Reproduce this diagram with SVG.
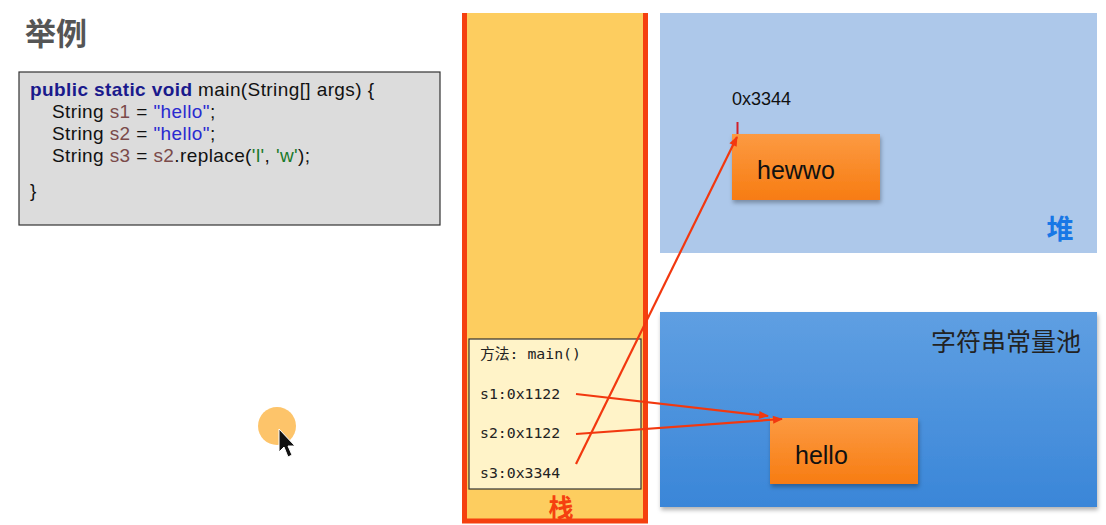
<svg xmlns="http://www.w3.org/2000/svg" width="1106" height="525" viewBox="0 0 1106 525">
<defs>
<marker id="ah2" viewBox="0 0 10 10" refX="9" refY="5" markerWidth="12" markerHeight="10" orient="auto" markerUnits="userSpaceOnUse">
<path d="M0,1 L10,5 L0,9 Z" fill="#f2380f"/>
</marker>
<linearGradient id="og" x1="0" y1="0" x2="0" y2="1">
<stop offset="0" stop-color="#fc9a42"/>
<stop offset="1" stop-color="#f77c12"/>
</linearGradient>
<linearGradient id="bg" x1="0" y1="0" x2="0" y2="1">
<stop offset="0" stop-color="#5f9fe2"/>
<stop offset="1" stop-color="#3a86d8"/>
</linearGradient>
<filter id="sh" x="-10%" y="-10%" width="130%" height="140%">
<feDropShadow dx="1" dy="3" stdDeviation="2" flood-color="#000" flood-opacity="0.3"/>
</filter>
</defs>
<style>
.code{font-family:"Liberation Sans",Arial,sans-serif;font-size:19px;letter-spacing:0.4px;fill:#111}
.kw{fill:#1a1a8c;font-weight:bold}
.var{fill:#7a4a4a}
.str{fill:#2a2ad0}
.chr{fill:#1a7a2a}
.mono{font-family:"DejaVu Sans Mono","Noto Sans CJK SC",monospace;font-size:14.8px;fill:#222}
.box{font-family:"Liberation Sans",Arial,sans-serif;font-size:25px;fill:#111}
.conn{stroke:#f2380f;stroke-width:2.2;fill:none}
</style>
<rect width="1106" height="525" fill="#ffffff"/>
<g id="title">
<text x="25" y="45" font-family="'Noto Sans CJK SC',sans-serif" font-size="31" font-weight="bold" fill="#555">举例</text>
</g>
<g id="code">
<rect x="19" y="72" width="421" height="153" fill="#dcdcdc" stroke="#333" stroke-width="1.2"/>
<text class="code" x="30" y="96"><tspan class="kw">public static void</tspan> main(String[] args) {</text>
<text class="code" x="52" y="118">String <tspan class="var">s1</tspan> = <tspan class="str">"hello"</tspan>;</text>
<text class="code" x="52" y="140">String <tspan class="var">s2</tspan> = <tspan class="str">"hello"</tspan>;</text>
<text class="code" x="52" y="162">String <tspan class="var">s3</tspan> = <tspan class="var">s2</tspan>.replace(<tspan class="chr">'l'</tspan>, <tspan class="chr">'w'</tspan>);</text>
<text class="code" x="30" y="197">}</text>
</g>
<g id="stack">
<rect x="464" y="13" width="182" height="508" fill="#fdcd5f"/>
<path d="M464.5,13 V521 H645.5 V13" fill="none" stroke="#f5400f" stroke-width="5"/>
<text x="561" y="517" text-anchor="middle" font-family="'Noto Sans CJK SC',sans-serif" font-size="25" font-weight="bold" fill="#f5400f">栈</text>
</g>
<g id="frame">
<rect x="469" y="339" width="172" height="150" fill="#fff3c8" stroke="#333" stroke-width="1.2"/>
<text class="mono" x="480" y="359">方法: main()</text>
<text class="mono" x="480" y="399">s1:0x1122</text>
<text class="mono" x="480" y="438">s2:0x1122</text>
<text class="mono" x="480" y="478">s3:0x3344</text>
</g>
<g id="heap">
<rect x="660" y="13" width="437" height="240" fill="#adc8ea"/>
<text x="1060" y="239" text-anchor="middle" font-family="'Noto Sans CJK SC',sans-serif" font-size="27" font-weight="bold" fill="#1877e6">堆</text>
<text x="732" y="105" font-family="'Liberation Sans',Arial,sans-serif" font-size="18" fill="#111">0x3344</text>
<line x1="737.5" y1="122" x2="737.5" y2="134" stroke="#d0202a" stroke-width="2"/>
</g>
<g id="hewwo">
<rect x="732" y="134" width="148" height="66" fill="url(#og)" filter="url(#sh)"/>
<text class="box" x="757" y="179">hewwo</text>
</g>
<g id="pool">
<rect x="660" y="312" width="437" height="195" fill="url(#bg)" filter="url(#sh)"/>
<text x="1081" y="351" text-anchor="end" font-family="'Noto Sans CJK SC',sans-serif" font-size="25" fill="#222">字符串常量池</text>
</g>
<g id="hello">
<rect x="770" y="418" width="148" height="66" fill="url(#og)" filter="url(#sh)"/>
<text class="box" x="795" y="464">hello</text>
</g>
<g id="connectors">
<line class="conn" x1="576" y1="394" x2="768" y2="416" marker-end="url(#ah2)"/>
<line class="conn" x1="576" y1="434" x2="782" y2="419" marker-end="url(#ah2)"/>
<line class="conn" x1="576" y1="464" x2="737" y2="137" marker-end="url(#ah2)"/>
</g>
<g id="cursor">
<circle cx="277" cy="426" r="19" fill="#fdc46a"/>
<path d="M279,429 L279,452 L284,447 L288,457 L292,455 L288,446 L295,446 Z" fill="#111" stroke="#fff" stroke-width="1"/>
</g>
</svg>
